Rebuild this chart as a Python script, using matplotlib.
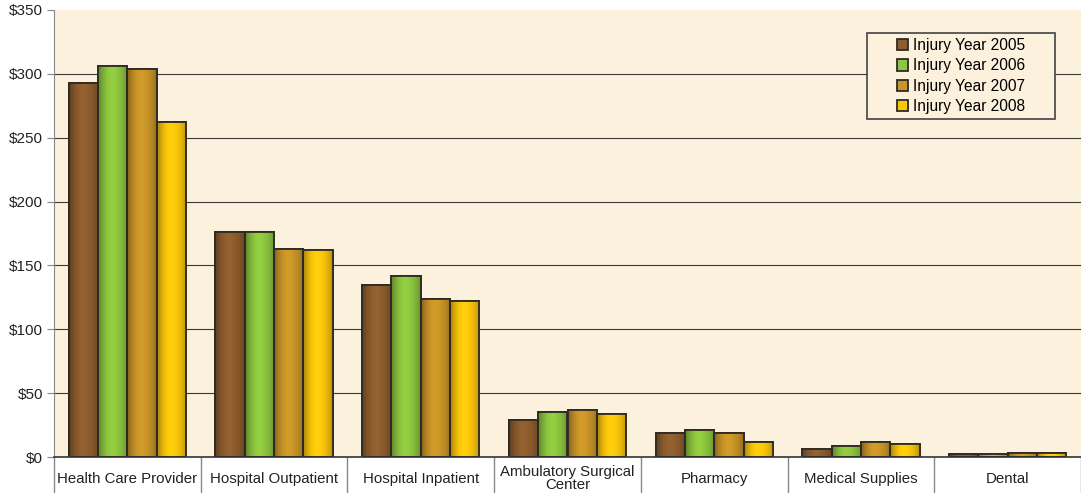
import numpy as np
import matplotlib.pyplot as plt
from matplotlib.colors import to_rgb
from matplotlib.patches import Rectangle

plt.rcParams['font.family'] = ['Liberation Sans', 'DejaVu Sans']

categories = ['Health Care Provider', 'Hospital Outpatient', 'Hospital Inpatient',
              'Ambulatory Surgical\nCenter', 'Pharmacy', 'Medical Supplies', 'Dental']
years = ['Injury Year 2005', 'Injury Year 2006', 'Injury Year 2007', 'Injury Year 2008']
y2005 = [293, 176, 135, 29, 19, 6.5, 2]
y2006 = [306, 176, 142, 35, 21.5, 8.5, 2.5]
y2007 = [304, 163, 124, 36.5, 19, 11.5, 3]
y2008 = [262, 162, 122, 33.5, 12, 10, 3]
yticks = [0, 50, 100, 150, 200, 250, 300, 350]

colors = ['#8e5d2e', '#8dc63f', '#c99528', '#fcc60a']
series = [y2005, y2006, y2007, y2008]

W, H = 1081, 493
fig = plt.figure(figsize=(W / 100, H / 100), dpi=100)
ax = fig.add_axes([54 / W, 36 / H, 1 - 54 / W, 447 / H])
ax.set_facecolor('#fcf1dc')

# shading profile across a bar (darker at the sides)
prof = np.array([0.72, 0.85, 0.95, 1.02, 1.05, 1.04, 1.0, 0.95, 0.88, 0.78])

x = np.arange(len(categories))
w = 0.2
for i, (vals, c) in enumerate(zip(series, colors)):
    bars = ax.bar(x + (i - 1.5) * w, vals, w, color=c, edgecolor='#2e2a24',
                  linewidth=1.3, label=years[i], zorder=3)
    grad = np.clip(np.outer(np.ones(2), prof)[:, :, None] * np.array(to_rgb(c)), 0, 1)
    for b in bars:
        bx, by = b.get_x(), b.get_y()
        im = ax.imshow(grad, extent=(bx, bx + b.get_width(), by, by + b.get_height()),
                       aspect='auto', interpolation='bilinear', zorder=3.5)
        im.set_clip_path(b)
        ax.bar(bx + b.get_width() / 2, b.get_height(), b.get_width(), fill=False,
               edgecolor='#2e2a24', linewidth=1.3, zorder=4)

ax.set_xlim(-0.5, len(categories) - 0.5)
ax.set_ylim(0, 350)
ax.set_yticks(yticks)
ax.set_yticklabels(['$%d' % v for v in yticks], fontsize=11, color='#222222')
for v in yticks[1:-1]:
    ax.axhline(v, color='#3a3a3a', linewidth=0.8, zorder=1)
ax.tick_params(axis='y', length=5, color='#888888', pad=3)

# category boxes below the axis
ax.set_xticks(x)
ax.set_xticklabels(categories, fontsize=10.8, color='#222222', va='center',
                   linespacing=0.95)
ax.tick_params(axis='x', length=0, pad=15.5)
ax.set_xticks(np.arange(-0.5, len(categories)), minor=True)
ax.tick_params(axis='x', which='minor', length=27, color='#888888', width=1)

for s in ['top', 'right']:
    ax.spines[s].set_visible(False)
ax.spines['left'].set_color('#888888')
ax.spines['bottom'].set_color('#333333')
ax.spines['bottom'].set_linewidth(1.2)
ax.spines['bottom'].set_zorder(5)

# legend box
fig.patches.append(Rectangle((867 / W, 1 - 119 / H), 188 / W, 86 / H,
                             transform=fig.transFigure, facecolor='#fcf1dc',
                             edgecolor='#444444', linewidth=1.2, zorder=5))
leg = fig.legend(*ax.get_legend_handles_labels(), loc='center',
                 bbox_to_anchor=(961 / W, 1 - 76 / H), fontsize=11.2,
                 frameon=False, handlelength=0.75, handleheight=0.75,
                 handletextpad=0.3, borderpad=0, labelspacing=0.35)
leg.set_zorder(6)

fig.savefig('out.png', dpi=100)
